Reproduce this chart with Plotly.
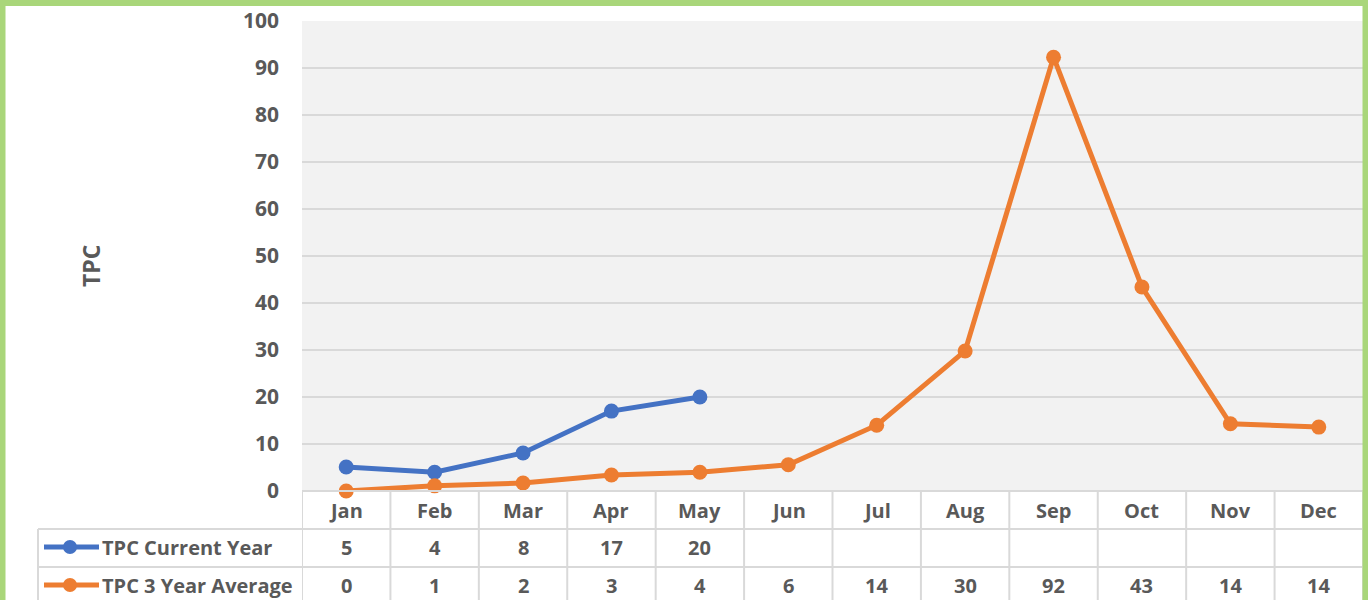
import plotly.graph_objects as go

months = ["Jan", "Feb", "Mar", "Apr", "May", "Jun", "Jul", "Aug", "Sep", "Oct", "Nov", "Dec"]
current_year = [5.1, 4.0, 8.1, 17.0, 20.0]
three_year_avg = [0.0, 1.1, 1.7, 3.4, 4.0, 5.6, 14.0, 29.8, 92.3, 43.4, 14.3, 13.6]
current_labels = ["5", "4", "8", "17", "20"]
avg_labels = ["0", "1", "2", "3", "4", "6", "14", "30", "92", "43", "14", "14"]
series_names = ["TPC Current Year", "TPC 3 Year Average"]
y_ticks = [0, 10, 20, 30, 40, 50, 60, 70, 80, 90, 100]

BLUE = "#4472C4"
ORANGE = "#ED7D31"
GRID = "#D9D9D9"
TXT = "#595959"
FONT = "Open Sans"

W, H = 1368, 600
L, R, T, B = 302, 5, 21, 109
PW = W - L - R
PH = H - T - B

def px_x(px):
    return (px - L) / PW

def px_y(py):
    return (H - B - py) / PH

fig = go.Figure()
xs = list(range(len(months)))
fig.add_trace(go.Scatter(x=xs[:len(current_year)], y=current_year, mode="lines+markers",
                         line=dict(color=BLUE, width=5), marker=dict(size=15, color=BLUE),
                         name=series_names[0], cliponaxis=False))
fig.add_trace(go.Scatter(x=xs, y=three_year_avg, mode="lines+markers",
                         line=dict(color=ORANGE, width=5), marker=dict(size=15, color=ORANGE),
                         name=series_names[1], cliponaxis=False))

shapes = []
ann = []
row_centers = [510, 547, 585]
shapes.append(dict(type="line", xref="paper", yref="paper", x0=0, x1=1, y0=px_y(491), y1=px_y(491),
                   line=dict(color=GRID, width=2)))
for yy in [529, 567]:
    shapes.append(dict(type="line", xref="paper", yref="paper", x0=px_x(38), x1=1, y0=px_y(yy), y1=px_y(yy),
                       line=dict(color=GRID, width=2)))
shapes.append(dict(type="line", xref="paper", yref="paper", x0=px_x(38), x1=px_x(38), y0=px_y(529), y1=px_y(605),
                   line=dict(color=GRID, width=2)))
for i in range(len(months) + 1):
    shapes.append(dict(type="line", xref="x", yref="paper", x0=i - 0.5, x1=i - 0.5, y0=px_y(491), y1=px_y(605),
                       line=dict(color=GRID, width=2)))

tfont = dict(family=FONT, size=20, color=TXT, weight="bold")
for i, m in enumerate(months):
    ann.append(dict(x=i, y=px_y(row_centers[0]), xref="x", yref="paper", text=m, showarrow=False,
                    yanchor="middle", font=tfont))
for i, t in enumerate(current_labels):
    ann.append(dict(x=i, y=px_y(row_centers[1]), xref="x", yref="paper", text=t, showarrow=False,
                    yanchor="middle", font=tfont))
for i, t in enumerate(avg_labels):
    ann.append(dict(x=i, y=px_y(row_centers[2]), xref="x", yref="paper", text=t, showarrow=False,
                    yanchor="middle", font=tfont))

for k, (name, col) in enumerate(zip(series_names, [BLUE, ORANGE])):
    cy = row_centers[k + 1]
    shapes.append(dict(type="line", xref="paper", yref="paper", x0=px_x(44), x1=px_x(99), y0=px_y(cy), y1=px_y(cy),
                       line=dict(color=col, width=5)))
    shapes.append(dict(type="circle", xref="paper", yref="paper", x0=px_x(63), x1=px_x(77),
                       y0=px_y(cy + 7), y1=px_y(cy - 7), fillcolor=col, line=dict(color=col, width=0)))
    ann.append(dict(x=px_x(100), y=px_y(cy), xref="paper", yref="paper", text=name, showarrow=False,
                    xanchor="left", yanchor="middle", font=dict(family=FONT, size=20, color=TXT, weight="bold")))

ann.append(dict(x=px_x(91), y=px_y(266), xref="paper", yref="paper", text="TPC", showarrow=False, textangle=-90,
                xanchor="center", yanchor="middle",
                font=dict(family=FONT, size=23, color=TXT, weight="bold")))

shapes.append(dict(type="rect", xref="paper", yref="paper", x0=px_x(2.5), x1=px_x(1365.5), y0=px_y(630), y1=px_y(3),
                   line=dict(color="#A9D67A", width=6), layer="above"))

fig.update_layout(
    width=W, height=H,
    margin=dict(l=L, r=R, t=T, b=B),
    paper_bgcolor="white", plot_bgcolor="#F2F2F2",
    showlegend=False,
    shapes=shapes, annotations=ann,
    xaxis=dict(range=[-0.5, 11.5], showticklabels=False, showgrid=False, zeroline=False, fixedrange=True),
    yaxis=dict(range=[0, 100], tickvals=y_ticks, showgrid=True, gridcolor=GRID, gridwidth=2, zeroline=False,
               tickfont=dict(family=FONT, size=21, color=TXT, weight="bold"), ticks="", ticklabelstandoff=22),
)

fig.write_html("out.html", config={"displayModeBar": False},
               post_script="document.body.style.margin='0';document.body.style.overflow='hidden';")
